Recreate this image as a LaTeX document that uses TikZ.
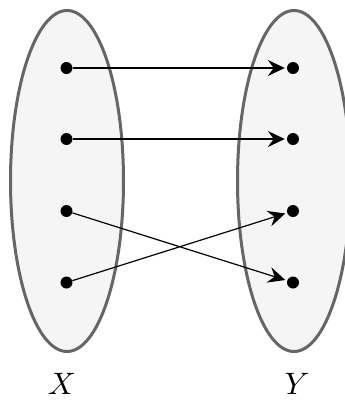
\documentclass[tikz,border=0pt]{standalone}
\usetikzlibrary{arrows.meta}
\begin{document}
\begin{tikzpicture}[x=1pt,y=-1pt,
  setshape/.style={draw=black!60,line width=3pt,fill=black!4},
  pt/.style={circle,fill=black,inner sep=0pt,minimum size=12pt},
  map/.style={line width=1.2pt,-{Stealth[length=17pt,width=16pt,inset=6pt]},shorten >=2pt},
  lbl/.style={scale=3.1}]
\useasboundingbox (0,0) rectangle (345,405);
\draw[setshape] (67,181) ellipse [x radius=56.5,y radius=170.5];
\draw[setshape] (294,181) ellipse [x radius=56.5,y radius=170.5];
\node[pt] (a1) at (66.5,68) {};
\node[pt] (a2) at (66.5,139) {};
\node[pt] (a3) at (66.5,211) {};
\node[pt] (a4) at (66.5,282.5) {};
\node[pt] (b1) at (293,68) {};
\node[pt] (b2) at (293,139) {};
\node[pt] (b3) at (293,211) {};
\node[pt] (b4) at (293,282.5) {};
\draw[map] (a1) -- (b1);
\draw[map] (a2) -- (b2);
\draw[map] (a3) -- (b4);
\draw[map] (a4) -- (b3);
\node[lbl] (X) at (62,384) {$X$};
\node[lbl] (Y) at (297,384) {$Y$};
\end{tikzpicture}
\end{document}
